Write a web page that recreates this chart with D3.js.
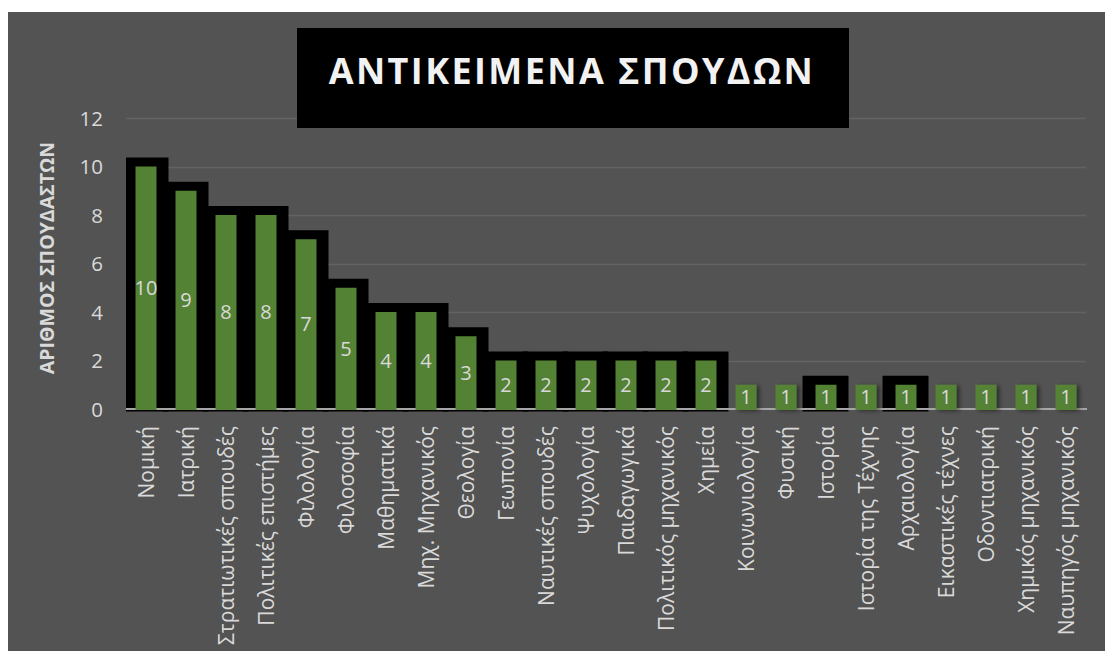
<!DOCTYPE html>
<html>
<head>
<meta charset="utf-8">
<script src="https://cdn.jsdelivr.net/npm/d3@7/dist/d3.min.js"></script>
<style>
  html, body { margin: 0; padding: 0; background: #ffffff; }
  svg { display: block; }
</style>
</head>
<body>
<svg id="chart" width="1105" height="651"></svg>
<script>
const categories = [
  "Νομική", "Ιατρική", "Στρατιωτικές σπουδές", "Πολιτικές επιστήμες",
  "Φιλολογία", "Φιλοσοφία", "Μαθηματικά", "Μηχ. Μηχανικός", "Θεολογία",
  "Γεωπονία", "Ναυτικές σπουδές", "Ψυχολογία", "Παιδαγωγικά",
  "Πολιτικός μηχανικός", "Χημεία", "Κοινωνιολογία", "Φυσική", "Ιστορία",
  "Ιστορία της Τέχνης", "Αρχαιολογία", "Εικαστικές τέχνες", "Οδοντιατρική",
  "Χημικός μηχανικός", "Ναυπηγός μηχανικός"
];
const values = [10, 9, 8, 8, 7, 5, 4, 4, 3, 2, 2, 2, 2, 2, 2, 1, 1, 1, 1, 1, 1, 1, 1, 1];
const framed = [
  "Νομική", "Ιατρική", "Στρατιωτικές σπουδές", "Πολιτικές επιστήμες",
  "Φιλολογία", "Φιλοσοφία", "Μαθηματικά", "Μηχ. Μηχανικός", "Θεολογία",
  "Γεωπονία", "Ναυτικές σπουδές", "Ψυχολογία", "Παιδαγωγικά",
  "Πολιτικός μηχανικός", "Χημεία", "Ιστορία", "Αρχαιολογία"
];
const yTicks = [0, 2, 4, 6, 8, 10, 12];
const titleText = "ΑΝΤΙΚΕΙΜΕΝΑ ΣΠΟΥΔΩΝ";
const yTitle = "ΑΡΙΘΜΟΣ ΣΠΟΥΔΑΣΤΩΝ";

const data = categories.map((c, i) => ({ cat: c, v: values[i], framed: framed.includes(c) }));

const svg = d3.select("#chart");
const W = 1105, H = 651;
const FONT = "'Open Sans', 'Noto Sans', sans-serif";
const textCol = "#d9d9d9";

// background panel
svg.append("rect").attr("x", 8).attr("y", 12).attr("width", W - 8).attr("height", H - 12).attr("fill", "#535353");

const plot = { left: 126, right: 1086, top: 118, bottom: 409 };

const x = d3.scaleBand().domain(categories).range([plot.left, plot.right]).paddingInner(0.475).paddingOuter(0.2375);
const y = d3.scaleLinear().domain([0, 12]).range([plot.bottom, plot.top]);

const defs = svg.append("defs");
defs.append("clipPath").attr("id", "plotclip").append("rect")
  .attr("x", plot.left).attr("y", 0).attr("width", plot.right - plot.left).attr("height", H);
const f = defs.append("filter").attr("id", "shadow").attr("x", "-50%").attr("y", "-50%").attr("width", "200%").attr("height", "200%");
f.append("feDropShadow").attr("dx", 3).attr("dy", 1).attr("stdDeviation", 2).attr("flood-color", "#000").attr("flood-opacity", 0.45);

// gridlines
const grid = svg.append("g");
grid.selectAll("line").data(yTicks.filter(t => t > 0)).join("line")
  .attr("x1", plot.left).attr("x2", plot.right)
  .attr("y1", d => Math.round(y(d)) + 0.5).attr("y2", d => Math.round(y(d)) + 0.5)
  .attr("stroke", "#636363").attr("stroke-width", 1.3);

// black frames
const g = svg.append("g").attr("clip-path", "url(#plotclip)");
const bw = x.bandwidth();
g.selectAll("rect.frame").data(data.filter(d => d.framed)).join("rect")
  .attr("class", "frame")
  .attr("x", d => x(d.cat) + bw / 2 - 23.5)
  .attr("width", 46)
  .attr("y", d => y(d.v) - 9)
  .attr("height", d => plot.bottom + 2.5 - (y(d.v) - 9))
  .attr("fill", "#000");

// axis line at 0
svg.append("line").attr("x1", plot.left).attr("x2", plot.right + 1)
  .attr("y1", plot.bottom).attr("y2", plot.bottom)
  .attr("stroke", "#a6a6a6").attr("stroke-width", 2);

// green bars
svg.append("g").selectAll("rect.bar").data(data).join("rect")
  .attr("class", "bar")
  .attr("x", d => x(d.cat))
  .attr("width", bw)
  .attr("y", d => y(d.v))
  .attr("height", d => y(0) - y(d.v) + 1)
  .attr("fill", "#548235")
  .attr("filter", d => d.framed ? null : "url(#shadow)");

// data labels
svg.append("g").selectAll("text").data(data).join("text")
  .attr("x", d => x(d.cat) + bw / 2)
  .attr("y", d => (y(d.v) + y(0)) / 2)
  .attr("dy", "0.36em")
  .attr("text-anchor", "middle")
  .attr("font-family", FONT).attr("font-size", 20)
  .attr("fill", textCol)
  .text(d => d.v);

// y axis
const yAxis = d3.axisLeft(y).tickValues(yTicks).tickSize(0).tickPadding(0);
const ya = svg.append("g").attr("transform", `translate(103,0)`).call(yAxis);
ya.select(".domain").remove();
ya.selectAll("text").attr("font-family", FONT).attr("font-size", 20.5).attr("fill", textCol).attr("dy", "0.36em");

// x axis labels
const xAxis = d3.axisBottom(x).tickSize(0).tickPadding(0);
const xa = svg.append("g").attr("transform", `translate(0,${plot.bottom})`).call(xAxis);
xa.select(".domain").remove();
xa.selectAll("text")
  .attr("font-family", FONT).attr("font-size", 21).attr("fill", textCol)
  .attr("text-anchor", "end")
  .attr("transform", "rotate(-90)")
  .attr("x", -17).attr("y", 0).attr("dy", "0.36em");

// y title
svg.append("text")
  .attr("transform", "translate(47,258) rotate(-90)")
  .attr("text-anchor", "middle").attr("dy", "0.36em")
  .attr("font-family", FONT).attr("font-weight", "bold").attr("font-size", 19.5)
  .attr("fill", textCol)
  .text(yTitle);

// title box
svg.append("rect").attr("x", 297).attr("y", 28).attr("width", 552).attr("height", 100).attr("fill", "#000");
svg.append("text")
  .attr("x", 572).attr("y", 84)
  .attr("text-anchor", "middle")
  .attr("font-family", FONT).attr("font-weight", "bold").attr("font-size", 36)
  .attr("letter-spacing", 2.4)
  .attr("fill", "#f2f2f2")
  .text(titleText);
</script>
</body>
</html>
